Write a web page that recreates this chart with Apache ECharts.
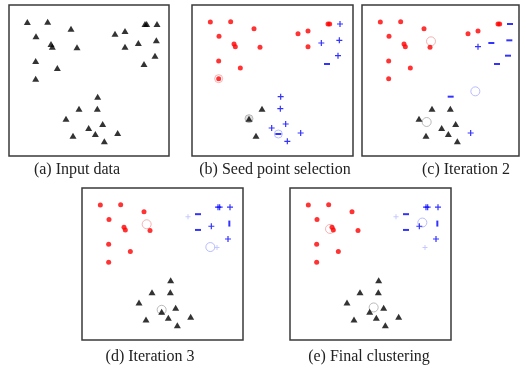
<!DOCTYPE html>
<html><head><meta charset="utf-8">
<script src="https://cdn.jsdelivr.net/npm/echarts@6/dist/echarts.min.js"></script>
<style>html,body{margin:0;padding:0;background:#fff}#c{width:520px;height:369px}</style>
</head><body><div id="c"></div>
<script>
// point coordinates (shared across all panels), units: 1/3 px inside each frame
const pointX = [55,116,186,81,126,130,204,80,145,80, 318,348,348,408,413,444,388,442,438,405, 266,210,265,171,239,281,192,259,326,286];
const pointY = [51,50,71,94,117,125,127,168,189,221, 86,78,125,57,57,57,114,106,152,177, 275,311,311,341,369,357,392,387,384,409];
// class labels per panel: k=black triangle, r=red, p=blue plus, m=blue minus, v=blue bar, l=light blue plus
const labelsA = ['k','k','k','k','k','k','k','k','k','k','k','k','k','k','k','k','k','k','k','k','k','k','k','k','k','k','k','k','k','k'];
const labelsB = ['r','r','r','r','r','r','r','r','r','r','r','r','r','r','r','p','p','p','p','m','p','k','p','k','p','p','k','m','p','p'];
const labelsC = ['r','r','r','r','r','r','r','r','r','r','r','r','p','r','r','m','m','m','m','m','m','k','k','k','k','k','k','k','p','k'];
const labelsD = ['r','r','r','r','r','r','r','r','r','r','l','m','m','p','p','p','p','v','p','l','k','k','k','k','k','k','k','k','k','k'];
const labelsE = ['r','r','r','r','r','r','r','r','r','r','l','m','m','p','p','p','p','v','p','l','k','k','k','k','k','k','k','k','k','k'];
// cluster centres per panel: [red, blue, black] as [x,y]
const centresB = [[80,221],[259,387],[171,341]];
const centresC = [[207,109],[340,259],[194,351]];
const centresD = [[194,108],[385,176],[239,363]];
const centresE = [[120,122],[397,103],[251,356]];
const captions = ['(a) Input data','(b) Seed point selection','(c) Iteration 2','(d) Iteration 3','(e) Final clustering'];

const panels = [
  {labels: labelsA, centres: null, grid:{left:9,top:5,width:160,height:151}, xmax:480, cap:[77,170]},
  {labels: labelsB, centres: centresB, grid:{left:192,top:5,width:161,height:151}, xmax:483, cap:[275,170], seed:true},
  {labels: labelsC, centres: centresC, grid:{left:362,top:5,width:157,height:151}, xmax:471, cap:[466,170]},
  {labels: labelsD, centres: centresD, grid:{left:82,top:188,width:161,height:152}, xmax:483, cap:[150,357]},
  {labels: labelsE, centres: centresE, grid:{left:290,top:188,width:161,height:152}, xmax:483, cap:[369,357]}
];

const styles = {
  k:{symbol:'triangle', size:[7,6], color:'#000'},
  r:{symbol:'circle', size:5, color:'#ff0000'},
  p:{symbol:'path://M0,4h10v2H0z M4,0h2v10H4z', size:6, color:'#0000ff'},
  m:{symbol:'path://M0,0h10v2H0z', size:[6,2], color:'#0000ff'},
  v:{symbol:'path://M0,0h2v10H0z', size:[2,6], color:'#0000ff'},
  l:{symbol:'path://M0,4h10v2H0z M4,0h2v10H4z', size:5, color:'#b8bcff'}
};
const centreColors = ['#f2a0a0','#a8acff','#aaaaaa'];

const grids=[], xAxes=[], yAxes=[], series=[];
panels.forEach((p,i)=>{
  grids.push(Object.assign({show:true, borderColor:'#3a3a3a', borderWidth:1.5, backgroundColor:'#fff'}, p.grid));
  xAxes.push({gridIndex:i, type:'value', min:0, max:p.xmax, show:false});
  yAxes.push({gridIndex:i, type:'value', min:0, max:453, inverse:true, show:false});
  if (p.centres) {
    p.centres.forEach((c,j)=>{
      series.push({type:'scatter', xAxisIndex:i, yAxisIndex:i, z:1, silent:true,
        symbol:'circle', symbolSize:(p.seed?8:9),
        itemStyle:{color:(p.seed && j===2)?'#d8d8d8':'rgba(0,0,0,0)', borderColor:centreColors[j], borderWidth:1},
        data:[c]});
    });
  }
  Object.keys(styles).forEach(k=>{
    const d=[];
    p.labels.forEach((lab,idx)=>{ if(lab===k) d.push([pointX[idx], pointY[idx]]); });
    if(!d.length) return;
    const s=styles[k];
    series.push({type:'scatter', xAxisIndex:i, yAxisIndex:i, z:2, silent:true,
      symbol:s.symbol, symbolSize:s.size, itemStyle:{color:s.color}, data:d});
  });
});

const graphic = panels.map((p,i)=>({type:'text', x:p.cap[0], y:p.cap[1],
  style:{text:captions[i], font:'16px "Liberation Serif"', fill:'#222', textAlign:'center', textVerticalAlign:'middle'}}));

const chart = echarts.init(document.getElementById('c'), null, {renderer:'canvas'});
chart.setOption({animation:false, grid:grids, xAxis:xAxes, yAxis:yAxes, series:series, graphic:graphic});
</script></body></html>
